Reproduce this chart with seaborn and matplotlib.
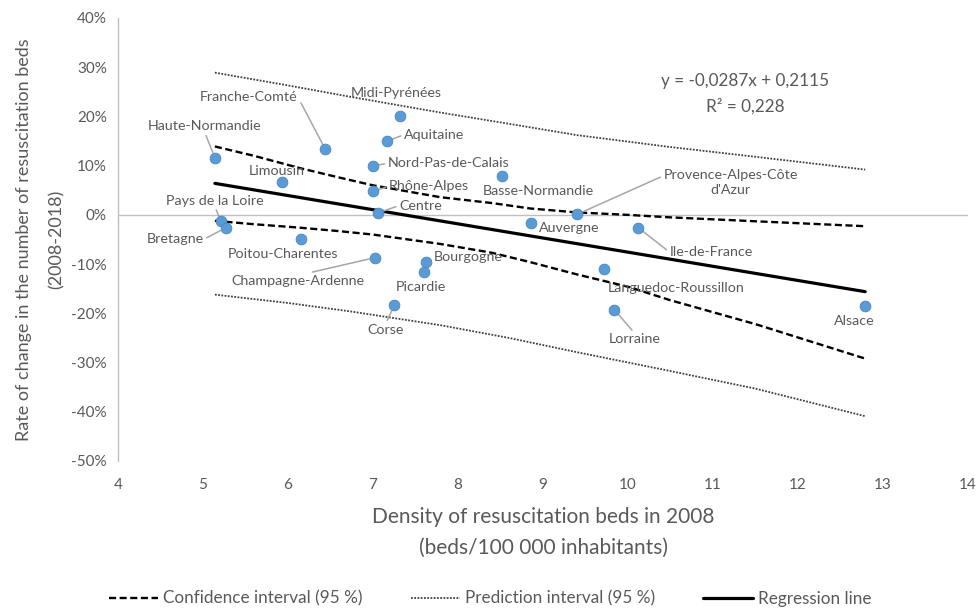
import pandas as pd
import matplotlib.pyplot as plt
from matplotlib.lines import Line2D
from matplotlib.ticker import FuncFormatter
import seaborn as sns

# Regional data
regions = ['Haute-Normandie', 'Franche-Comté', 'Midi-Pyrénées', 'Aquitaine',
           'Nord-Pas-de-Calais', 'Limousin', 'Basse-Normandie', 'Rhône-Alpes',
           'Centre', 'Pays de la Loire', 'Bretagne', 'Poitou-Charentes',
           'Champagne-Ardenne', 'Bourgogne', 'Picardie', 'Corse', 'Auvergne',
           "Provence-Alpes-Côte\nd'Azur", 'Ile-de-France', 'Languedoc-Roussillon',
           'Lorraine', 'Alsace']
density_2008 = [5.14, 6.44, 7.32, 7.17, 7.00, 5.93, 8.52, 7.00, 7.06, 5.21, 5.27,
                6.15, 7.02, 7.62, 7.60, 7.25, 8.86, 9.40, 10.12, 9.72, 9.84, 12.79]
change_pct = [11.6, 13.3, 20.1, 15.0, 9.9, 6.7, 7.9, 4.8, 0.4, -1.3, -2.6,
              -4.8, -8.7, -9.6, -11.7, -18.4, -1.7, 0.1, -2.6, -10.9, -19.3, -18.5]

# Regression line and the two 95 % intervals
reg_x = [5.14, 12.79]
reg_y = [6.4, -15.6]
ci_x = [5.14, 5.6, 6.14, 6.6, 7.0, 7.79, 8.4, 8.85, 9.4, 10.0, 10.49, 11.5, 12.79]
ci_upper = [13.9, 12.0, 9.5, 7.6, 6.0, 3.6, 2.4, 1.3, 0.5, 0.0, -0.5, -1.3, -2.3]
ci_lower = [-1.2, -1.9, -2.6, -3.3, -4.0, -5.9, -7.7, -9.6, -12.1, -14.6, -17.3, -22.2, -29.2]
pi_x = [5.14, 6.0, 6.73, 7.79, 8.6, 9.4, 10.49, 11.5, 12.79]
pi_upper = [28.9, 26.3, 24.0, 20.8, 18.5, 16.2, 13.8, 11.8, 9.2]
pi_lower = [-16.2, -17.9, -19.6, -22.4, -25.0, -27.9, -31.7, -35.3, -40.9]

x_ticks = list(range(4, 15))
y_ticks = list(range(-50, 41, 10))

df = pd.DataFrame({'region': regions, 'density': density_2008, 'change': change_pct})

sns.set_style('white')
plt.rcParams['font.family'] = ['Lato', 'DejaVu Sans']
grey = '#595959'
ci_style = dict(color='black', lw=1.7, linestyle=(0, (3, 1.5)))
pi_style = dict(color='#404040', lw=1.3, linestyle=(0, (1, 0.8)))
reg_style = dict(color='black', lw=2.3)

fig = plt.figure(figsize=(9.8, 6.14), dpi=100)
ax = fig.add_axes([0.1204, 0.2492, 0.8674, 0.7215])

ax.axhline(0, color='#bfbfbf', lw=1, zorder=1)

sns.lineplot(x=pi_x, y=pi_upper, ax=ax, **pi_style)
sns.lineplot(x=pi_x, y=pi_lower, ax=ax, **pi_style)
sns.lineplot(x=ci_x, y=ci_upper, ax=ax, **ci_style)
sns.lineplot(x=ci_x, y=ci_lower, ax=ax, **ci_style)
sns.lineplot(x=reg_x, y=reg_y, ax=ax, **reg_style)

sns.scatterplot(data=df, x='density', y='change', ax=ax, color='#5b9bd5',
                s=60, edgecolor='#4a86c0', linewidth=0.6, zorder=5)

# label placement: (x, y, anchor of the leader line on the text, or None)
label_pos = {
    'Haute-Normandie': (5.02, 18.0, (0.5, 0)),
    'Franche-Comté': (5.54, 24.0, (1, 0.5)),
    'Midi-Pyrénées': (7.27, 24.7, None),
    'Aquitaine': (7.72, 16.3, (0, 0.5)),
    'Nord-Pas-de-Calais': (7.89, 10.5, (0, 0.5)),
    'Limousin': (5.87, 9.0, None),
    'Basse-Normandie': (8.95, 4.8, None),
    'Rhône-Alpes': (7.66, 5.8, (0, 0.5)),
    'Centre': (7.56, 1.9, (0, 0.5)),
    'Pays de la Loire': (5.14, 2.9, (0.5, 0)),
    'Bretagne': (4.67, -5.0, (1, 0.5)),
    'Poitou-Charentes': (5.94, -8.0, None),
    'Champagne-Ardenne': (6.12, -13.5, (0.5, 1)),
    'Bourgogne': (8.12, -8.6, None),
    'Picardie': (7.56, -14.7, None),
    'Corse': (7.15, -23.3, (0.5, 1)),
    'Auvergne': (9.31, -2.7, None),
    "Provence-Alpes-Côte\nd'Azur": (11.21, 6.6, (0, 0.75)),
    'Ile-de-France': (10.98, -7.6, (0, 0.5)),
    'Languedoc-Roussillon': (10.56, -14.9, None),
    'Lorraine': (10.08, -25.3, (0.5, 1)),
    'Alsace': (12.66, -21.6, None),
}
for _, row in df.iterrows():
    tx, ty, rel = label_pos[row['region']]
    if rel is None:
        ax.text(tx, ty, row['region'], ha='center', va='center', fontsize=10.3,
                color=grey, linespacing=1.3)
    else:
        ax.annotate(row['region'], xy=(row['density'], row['change']), xytext=(tx, ty),
                    ha='center', va='center', fontsize=10.3, color=grey, linespacing=1.3,
                    arrowprops=dict(arrowstyle='-', color='#a6a6a6', lw=1.1,
                                    relpos=rel, shrinkA=0, shrinkB=4))

ax.text(11.38, 27.1, 'y = -0,0287x + 0,2115', ha='center', va='center', fontsize=12.3, color=grey)
ax.text(11.38, 22.0, 'R² = 0,228', ha='center', va='center', fontsize=12.3, color=grey)

ax.set_xlim(4, 14)
ax.set_ylim(-50, 40)
ax.set_xticks(x_ticks)
ax.set_yticks(y_ticks)
ax.yaxis.set_major_formatter(FuncFormatter(lambda v, p: f'{v:.0f}%'))
ax.tick_params(length=0, labelsize=11, labelcolor=grey, pad=8)
ax.tick_params(axis='x', pad=12)
for side in ['top', 'right', 'bottom']:
    ax.spines[side].set_visible(False)
ax.spines['left'].set_color('#bfbfbf')
ax.spines['left'].set_linewidth(1)

ax.set_xlabel('Density of resuscitation beds in 2008\n(beds/100 000 inhabitants)',
              fontsize=15, color=grey, labelpad=11, linespacing=1.7)
ax.set_ylabel('Rate of change in the number of resuscitation beds\n(2008-2018)',
              fontsize=13, color=grey, labelpad=5, linespacing=2.2)

handles = [Line2D([], [], **ci_style), Line2D([], [], **pi_style), Line2D([], [], **reg_style)]
fig.legend(handles, ['Confidence interval (95 %)', 'Prediction interval (95 %)', 'Regression line'],
           loc='lower center', bbox_to_anchor=(0.5, -0.013), ncol=3, frameon=False,
           fontsize=12.3, labelcolor=grey, handlelength=2.9, handletextpad=0.3,
           columnspacing=2.8)

fig.savefig('out.png', dpi=100)
